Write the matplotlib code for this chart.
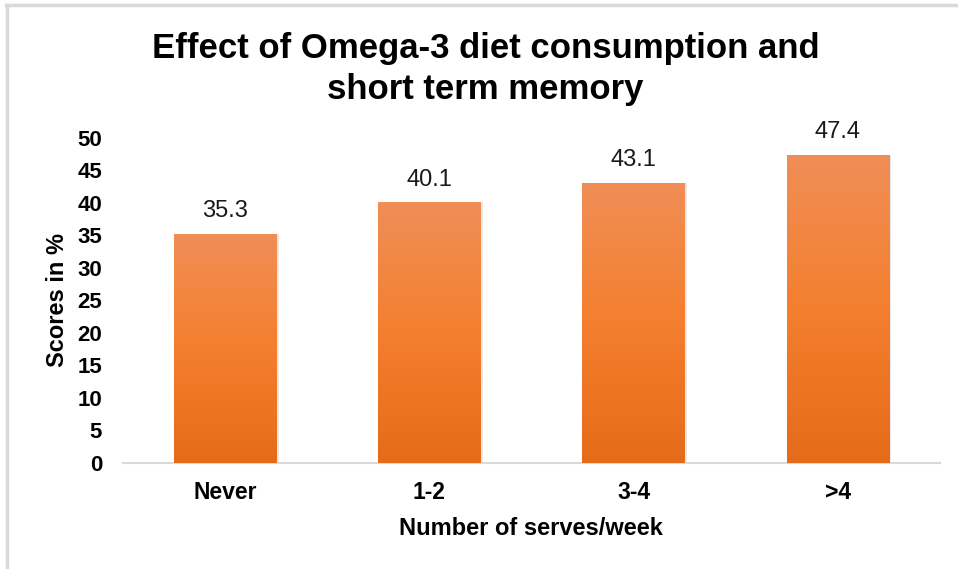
import matplotlib
matplotlib.use("Agg")
import matplotlib.pyplot as plt
import numpy as np
from matplotlib.colors import LinearSegmentedColormap
from matplotlib.lines import Line2D

categories = ["Never", "1-2", "3-4", ">4"]
scores = [35.3, 40.1, 43.1, 47.4]
y_ticks = [0, 5, 10, 15, 20, 25, 30, 35, 40, 45, 50]

plt.rcParams["font.family"] = ["Liberation Sans", "DejaVu Sans"]

fig = plt.figure(figsize=(9.58, 5.69), dpi=100)
ax = fig.add_axes([0.1284, 0.1863, 0.8526, 0.5712])

x = np.arange(len(categories))
bars = ax.bar(x, scores, width=0.5, color="none", edgecolor="none", zorder=3)

grad = LinearSegmentedColormap.from_list(
    "orange_grad", ["#E56B19", "#F47F2E", "#F08E57"])
gradient = np.linspace(0, 1, 256).reshape(-1, 1)
for b in bars:
    x0, w, h = b.get_x(), b.get_width(), b.get_height()
    # soft shadow to the right
    ax.bar(x0 + w / 2 + 0.012, h, width=w, color="#bbbbbb", alpha=0.35,
           edgecolor="none", zorder=2)
    im = ax.imshow(gradient, cmap=grad, aspect="auto", origin="lower",
                   extent=[x0, x0 + w, 0, h], zorder=3)
    im.set_clip_path(b)
    ax.text(x0 + w / 2, h + 1.8, f"{h:.1f}", ha="center", va="bottom",
            fontsize=17, color="#1a1a1a")

ax.set_xlim(-0.5, 3.5)
ax.set_ylim(0, 50)
ax.set_xticks(x)
ax.set_xticklabels(categories, fontsize=16.5, fontweight="bold")
ax.set_yticks(y_ticks)
ax.set_yticklabels([str(t) for t in y_ticks], fontsize=16, fontweight="bold")
ax.tick_params(axis="x", length=0, pad=13)
ax.tick_params(axis="y", length=0, pad=15)

for side in ["top", "right", "left"]:
    ax.spines[side].set_visible(False)
ax.spines["bottom"].set_color("#D9D9D9")
ax.spines["bottom"].set_linewidth(1.5)

ax.set_xlabel("Number of serves/week", fontsize=17, fontweight="bold",
              labelpad=9)
ax.set_ylabel("Scores in %", fontsize=17, fontweight="bold", labelpad=6)

fig.suptitle("Effect of Omega-3 diet consumption and\nshort term memory",
             x=0.507, y=0.944, fontsize=25, fontweight="bold",
             linespacing=1.3, va="top")

# light gray frame along top and left edges
fig.add_artist(Line2D([0.006, 1.0], [0.991, 0.991], color="#D9D9D9",
                      linewidth=2.5, transform=fig.transFigure))
fig.add_artist(Line2D([0.0075, 0.0075], [0.0, 0.991], color="#D9D9D9",
                      linewidth=2.5, transform=fig.transFigure))

fig.savefig("out.png", dpi=100)
